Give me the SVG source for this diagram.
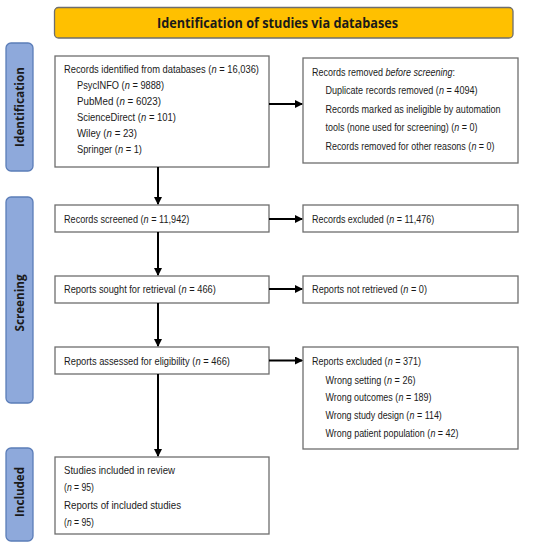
<svg xmlns="http://www.w3.org/2000/svg" width="550" height="550" viewBox="0 0 550 550">
<defs>
<style>
.box{fill:#fff;stroke:#6e6e6e;stroke-width:1.3}
.hdr{fill:#FFC000;stroke:#6e6e6e;stroke-width:1.3}
.side{fill:#8EA9DB;stroke:#5B7DB8;stroke-width:1.3}
.t{font-family:"Liberation Sans",Arial,sans-serif;font-size:10.5px;fill:#1a1a1a}
.i{font-style:italic}
.b{font-family:"Open Sans","Liberation Sans",sans-serif;font-weight:bold;fill:#1a1a1a}
.c{stroke:#000;stroke-width:2;fill:none;marker-end:url(#ah)}
</style>
<marker id="ah" viewBox="0 0 8 8" refX="7" refY="4" markerWidth="4" markerHeight="4" orient="auto" markerUnits="strokeWidth">
<path d="M0,0 L8,4 L0,8 Z" fill="#000"/>
</marker>
</defs>
<rect width="550" height="550" fill="#fff"/>

<g id="header">
<rect class="hdr" x="54.5" y="7.5" width="458.5" height="30.5" rx="4"/>
<text class="b" x="277.5" y="28" font-size="15" text-anchor="middle" textLength="241" lengthAdjust="spacingAndGlyphs">Identification of studies via databases</text>
</g>

<g id="side-identification">
<rect class="side" x="6" y="43" width="27" height="128" rx="5"/>
<text class="b" font-size="13" text-anchor="middle" transform="translate(24,107) rotate(-90)" textLength="80" lengthAdjust="spacingAndGlyphs">Identification</text>
</g>
<g id="side-screening">
<rect class="side" x="6" y="197" width="27" height="206" rx="5"/>
<text class="b" font-size="13" text-anchor="middle" transform="translate(24,303) rotate(-90)" textLength="57" lengthAdjust="spacingAndGlyphs">Screening</text>
</g>
<g id="side-included">
<rect class="side" x="6" y="448" width="27" height="93" rx="5"/>
<text class="b" font-size="13" text-anchor="middle" transform="translate(24,492) rotate(-90)" textLength="50" lengthAdjust="spacingAndGlyphs">Included</text>
</g>

<g id="n-identified">
<rect class="box" x="55" y="56" width="214" height="111"/>
<g transform="translate(64,73) scale(0.890,1)"><text class="t" x="0">Records identified from databases (</text><text class="t i" x="165.73">n</text><text class="t" x="174.49">= 16,036)</text></g>
<g transform="translate(77,89) scale(0.880,1)"><text class="t" x="0">PsycINFO (</text><text class="t i" x="54.25">n</text><text class="t" x="63.01">= 9888)</text></g>
<g transform="translate(77,105) scale(0.932,1)"><text class="t" x="0">PubMed (</text><text class="t i" x="45.52">n</text><text class="t" x="54.27">= 6023)</text></g>
<g transform="translate(77,121) scale(0.900,1)"><text class="t" x="0">ScienceDirect (</text><text class="t i" x="71.18">n</text><text class="t" x="79.94">= 101)</text></g>
<g transform="translate(77,137) scale(0.922,1)"><text class="t" x="0">Wiley (</text><text class="t i" x="32.08">n</text><text class="t" x="40.83">= 23)</text></g>
<g transform="translate(77,153) scale(0.8875,1)"><text class="t" x="0">Springer (</text><text class="t i" x="46.10">n</text><text class="t" x="54.85">= 1)</text></g>
</g>

<g id="n-removed">
<rect class="box" x="303" y="58" width="215" height="105"/>
<g transform="translate(312,75.5) scale(0.857,1)"><text class="t" x="0">Records removed</text><text class="t i" x="85.77">before screening</text><text class="t" x="163.98">:</text></g>
<g transform="translate(325.5,94) scale(0.861,1)"><text class="t" x="0">Duplicate records removed (</text><text class="t i" x="131.87">n</text><text class="t" x="140.63">= 4094)</text></g>
<text class="t" x="325.5" y="112.5" textLength="175" lengthAdjust="spacingAndGlyphs">Records marked as ineligible by automation</text>
<g transform="translate(325.5,131) scale(0.8525,1)"><text class="t" x="0">tools (none used for screening) (</text><text class="t i" x="151.15">n</text><text class="t" x="159.90">= 0)</text></g>
<g transform="translate(325.5,149.5) scale(0.8505,1)"><text class="t" x="0">Records removed for other reasons (</text><text class="t i" x="171.56">n</text><text class="t" x="180.32">= 0)</text></g>
</g>

<g id="n-screened">
<rect class="box" x="55" y="205" width="214" height="27"/>
<g transform="translate(64,223) scale(0.869,1)"><text class="t" x="0">Records screened (</text><text class="t i" x="91.61">n</text><text class="t" x="100.37">= 11,942)</text></g>
</g>
<g id="n-excluded">
<rect class="box" x="303" y="205" width="215" height="27"/>
<g transform="translate(312,223) scale(0.855,1)"><text class="t" x="0">Records excluded (</text><text class="t i" x="90.45">n</text><text class="t" x="99.20">= 11,476)</text></g>
</g>

<g id="n-sought">
<rect class="box" x="55" y="276" width="214" height="27"/>
<g transform="translate(64,293) scale(0.884,1)"><text class="t" x="0">Reports sought for retrieval (</text><text class="t i" x="133.05">n</text><text class="t" x="141.80">= 466)</text></g>
</g>
<g id="n-notretrieved">
<rect class="box" x="303" y="276" width="215" height="27"/>
<g transform="translate(312,293) scale(0.874,1)"><text class="t" x="0">Reports not retrieved (</text><text class="t i" x="104.45">n</text><text class="t" x="113.21">= 0)</text></g>
</g>

<g id="n-assessed">
<rect class="box" x="55" y="347" width="214" height="27"/>
<g transform="translate(64,364.5) scale(0.8876,1)"><text class="t" x="0">Reports assessed for eligibility (</text><text class="t i" x="148.21">n</text><text class="t" x="156.96">= 466)</text></g>
</g>
<g id="n-reportsexcluded">
<rect class="box" x="303" y="347" width="215" height="102"/>
<g transform="translate(312,364.5) scale(0.8587,1)"><text class="t" x="0">Reports excluded (</text><text class="t i" x="88.12">n</text><text class="t" x="96.87">= 371)</text></g>
<g transform="translate(325.5,384) scale(0.864,1)"><text class="t" x="0">Wrong setting (</text><text class="t i" x="71.19">n</text><text class="t" x="79.95">= 26)</text></g>
<g transform="translate(325.5,401.3) scale(0.851,1)"><text class="t" x="0">Wrong outcomes (</text><text class="t i" x="85.77">n</text><text class="t" x="94.53">= 189)</text></g>
<g transform="translate(325.5,419) scale(0.848,1)"><text class="t" x="0">Wrong study design (</text><text class="t i" x="99.20">n</text><text class="t" x="107.96">= 114)</text></g>
<g transform="translate(325.5,436.7) scale(0.852,1)"><text class="t" x="0">Wrong patient population (</text><text class="t i" x="123.14">n</text><text class="t" x="131.90">= 42)</text></g>
</g>

<g id="n-included">
<rect class="box" x="55" y="457" width="214" height="77"/>
<text class="t" x="64" y="474" textLength="111" lengthAdjust="spacingAndGlyphs">Studies included in review</text>
<g transform="translate(64,491.3) scale(0.822,1)"><text class="t" x="0">(</text><text class="t i" x="3.50">n</text><text class="t" x="12.25">= 95)</text></g>
<text class="t" x="64" y="508.7" textLength="117" lengthAdjust="spacingAndGlyphs">Reports of included studies</text>
<g transform="translate(64,525.7) scale(0.822,1)"><text class="t" x="0">(</text><text class="t i" x="3.50">n</text><text class="t" x="12.25">= 95)</text></g>
</g>

<g id="connectors">
<line class="c" x1="269" y1="104" x2="302" y2="104"/>
<line class="c" x1="158" y1="167" x2="158" y2="204"/>
<line class="c" x1="269" y1="219" x2="302" y2="219"/>
<line class="c" x1="158" y1="232" x2="158" y2="275"/>
<line class="c" x1="269" y1="289" x2="302" y2="289"/>
<line class="c" x1="158" y1="303" x2="158" y2="346"/>
<line class="c" x1="269" y1="360.5" x2="302" y2="360.5"/>
<line class="c" x1="158" y1="374" x2="158" y2="456"/>
</g>
</svg>
